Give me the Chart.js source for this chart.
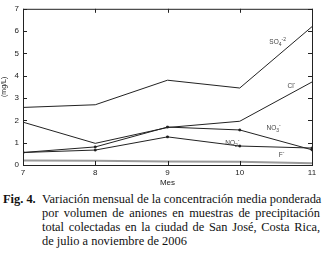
<!DOCTYPE html>
<html>
<head>
<meta charset="utf-8">
<script src="https://cdn.jsdelivr.net/npm/chart.js@4/dist/chart.umd.min.js"></script>
<style>
  body { margin: 0; background: #fff; width: 323px; height: 254px; overflow: hidden; }
  #wrap { position: relative; width: 323px; height: 188px; }
  .cap { position: absolute; left: 3px; top: 192px; width: 317px; font-family: "Liberation Serif", "Times New Roman", serif; font-size: 12.4px; line-height: 14px; color: #111; }
  .cap b { position: absolute; left: 0; top: 0; }
  .cap .body { margin-left: 39px; }
  .cap .ln { display: block; text-align: justify; text-align-last: justify; white-space: nowrap; }
  .cap .ln.last { text-align-last: left; }
</style>
</head>
<body>
<div id="wrap"><canvas id="chart" width="323" height="188"></canvas></div>
<div class="cap"><b>Fig. 4.</b><div class="body">
  <span class="ln">Variación mensual de la concentración media ponderada</span>
  <span class="ln">por volumen de aniones en muestras de precipitación</span>
  <span class="ln">total colectadas en la ciudad de San José, Costa Rica,</span>
  <span class="ln last">de julio a noviembre de 2006</span>
</div></div>
<script>
// Meses (julio = 7 ... noviembre = 11)
const months = [7, 8, 9, 10, 11];
// Concentraciones (mg/L)
const sulfate = [2.58, 2.7, 3.8, 3.45, 6.2];
const chloride = [1.92, 0.97, 1.68, 1.96, 3.72];
const nitrate = [0.56, 0.81, 1.7, 1.57, 0.68];
const nitrite = [0.56, 0.67, 1.26, 0.85, 0.76];
const fluoride = [0.2, 0.19, 0.16, 0.15, 0.08];
const yTicks = [0, 1, 2, 3, 4, 5, 6, 7];

const toPoints = vals => vals.map((v, i) => ({ x: months[i], y: v }));

// Etiquetas de las series dentro del gráfico (coordenadas de datos)
const seriesLabels = [
    { parts: [['SO', 0], ['4', -1], ['-2', 1]], x: 10.41, y: 5.5 },
    { parts: [['Cl', 0], ['-', 1]], x: 10.66, y: 3.52 },
    { parts: [['NO', 0], ['3', -1], ['-', 1]], x: 10.37, y: 1.64 },
    { parts: [['NO', 0], ['2', -1], ['-', 1]], x: 9.8, y: 0.97 },
    { parts: [['F', 0], ['-', 1]], x: 10.54, y: 0.44 }
];

const frame = {
    id: 'frame',
    afterDatasetsDraw(chart) {
        const { ctx, chartArea: a, scales } = chart;
        ctx.save();
        ctx.strokeStyle = '#222';
        ctx.lineWidth = 1;
        ctx.strokeRect(a.left + 0.5, a.top + 0.5, a.right - a.left, a.bottom - a.top);
        ctx.beginPath();
        months.forEach(m => {
            const px = Math.round(scales.x.getPixelForValue(m)) + 0.5;
            ctx.moveTo(px, a.bottom); ctx.lineTo(px, a.bottom - 4);
            ctx.moveTo(px, a.top); ctx.lineTo(px, a.top + 4);
        });
        yTicks.forEach(t => {
            const py = Math.round(scales.y.getPixelForValue(t)) + 0.5;
            ctx.moveTo(a.left, py); ctx.lineTo(a.left + 4, py);
            ctx.moveTo(a.right, py); ctx.lineTo(a.right - 4, py);
        });
        ctx.stroke();

        // etiquetas con subíndices / superíndices
        ctx.fillStyle = '#444';
        ctx.textBaseline = 'middle';
        seriesLabels.forEach(l => {
            let px = scales.x.getPixelForValue(l.x);
            const py = scales.y.getPixelForValue(l.y);
            l.parts.forEach(([t, s]) => {
                ctx.font = (s === 0 ? 6.5 : 5) + 'px "Liberation Sans", Arial, sans-serif';
                ctx.fillText(t, px, py + (s === -1 ? 2 : s === 1 ? -3 : 0));
                px += ctx.measureText(t).width;
            });
        });
        ctx.restore();
    }
};

const blackLine = (label, vals, marks) => ({
    label,
    data: toPoints(vals),
    borderColor: '#222',
    backgroundColor: '#111',
    borderWidth: 1,
    pointStyle: 'rect',
    pointRadius: marks ? 1.2 : 0,
    tension: 0
});

new Chart(document.getElementById('chart').getContext('2d'), {
    type: 'line',
    data: {
        datasets: [
            blackLine('SO4', sulfate, false),
            blackLine('Cl', chloride, false),
            blackLine('NO3', nitrate, true),
            blackLine('NO2', nitrite, true),
            {
                label: 'F', data: toPoints(fluoride), borderColor: '#9a9a9a',
                borderWidth: 2, pointRadius: 0, tension: 0
            }
        ]
    },
    options: {
        responsive: false,
        animation: false,
        devicePixelRatio: 1,
        layout: { padding: { top: 7, right: 11, left: 0, bottom: 0 } },
        plugins: { legend: { display: false }, tooltip: { enabled: false } },
        scales: {
            x: {
                type: 'linear', min: 7, max: 11,
                grid: { display: false, drawTicks: false },
                border: { display: false },
                afterFit: s => { s.height = 23; },
                ticks: { stepSize: 1, padding: 3, color: '#222', font: { family: '"Liberation Sans", Arial', size: 8 } },
                title: { display: true, text: 'Mes', padding: 0, color: '#222', font: { family: '"Liberation Sans", Arial', size: 8 } }
            },
            y: {
                min: 0, max: 7,
                grid: { display: false, drawTicks: false },
                border: { display: false },
                afterFit: s => { s.width = 23; },
                ticks: { stepSize: 1, padding: 4, color: '#222', font: { family: '"Liberation Sans", Arial', size: 8 } },
                title: { display: true, text: '(mg/L)', padding: 0, color: '#222', font: { family: '"Liberation Sans", Arial', size: 7 } }
            }
        }
    },
    plugins: [frame]
});
</script>
</body>
</html>
